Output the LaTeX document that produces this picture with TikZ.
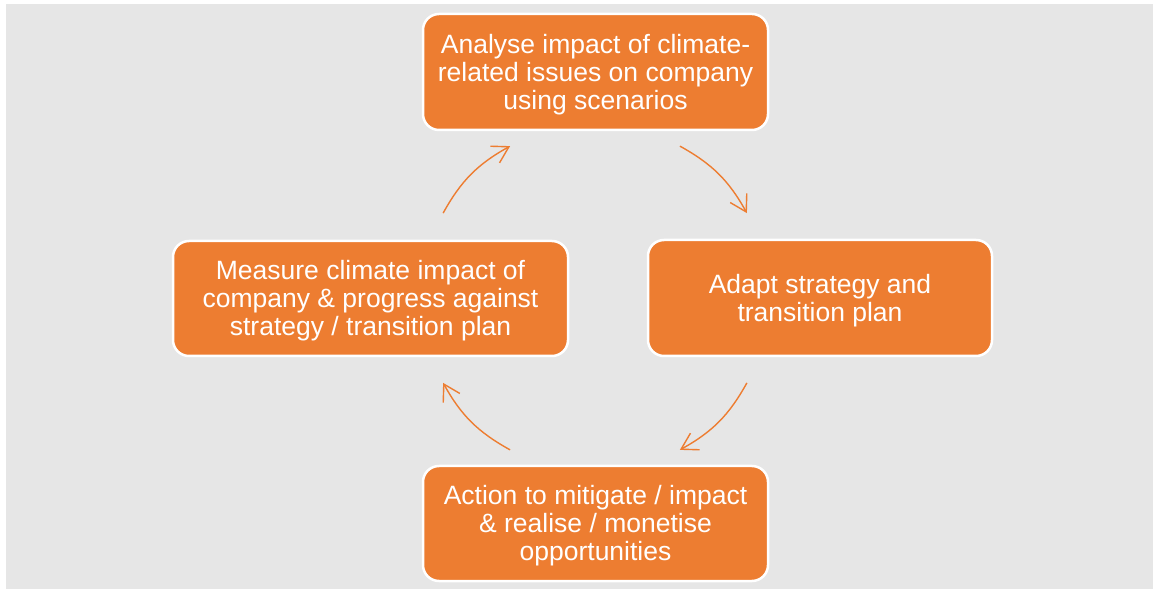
\documentclass[tikz,border=0pt]{standalone}
\usepackage{fontspec}
\setmainfont{Liberation Sans}
\usetikzlibrary{arrows.meta}
\definecolor{boxorange}{HTML}{ED7D31}
\definecolor{bggray}{HTML}{E6E6E6}
\newcommand\tpad{\rule{0pt}{24pt}}
\begin{document}
\begin{tikzpicture}[x=1pt,y=1pt,
  stepbox/.style={rectangle, rounded corners=16pt, fill=boxorange, draw=white,
    line width=2.5pt, text=white, align=center, inner sep=0pt,
    font=\fontsize{26.5}{28}\selectfont},
  cyc/.style={draw=boxorange, line width=1.4pt,
    -{Straight Barb[length=16pt,width=19pt,line width=1.4pt]}}]
\useasboundingbox (0,0) rectangle (1153,589);
\fill[bggray] (6,0) rectangle (1153,585);
\node[stepbox, minimum width=345pt, minimum height=116pt] (top) at (595.5,517)
  {\tpad Analyse impact of climate-\\related issues on company\\using scenarios};
\node[stepbox, minimum width=344pt, minimum height=116pt] (right) at (820,291)
  {\tpad Adapt strategy and\\transition plan};
\node[stepbox, minimum width=395pt, minimum height=115pt] (left) at (370.5,290.5)
  {\tpad Measure climate impact of\\company \& progress against\\strategy / transition plan};
\node[stepbox, minimum width=345pt, minimum height=115pt] (bottom) at (595.5,65.5)
  {\tpad Action to mitigate / impact\\\& realise / monetise\\opportunities};
\coordinate (ctr) at (595,291);
\path (ctr) ++(150.8:174pt) coordinate (a1s);
\path (ctr) ++(119.2:174pt) coordinate (a1e);
\path (ctr) ++(60.8:174pt) coordinate (a2s);
\path (ctr) ++(29.2:174pt) coordinate (a2e);
\path (ctr) ++(-29.2:174pt) coordinate (a3s);
\path (ctr) ++(-60.8:174pt) coordinate (a3e);
\path (ctr) ++(-119.2:174pt) coordinate (a4s);
\path (ctr) ++(-150.8:174pt) coordinate (a4e);
\draw[cyc] (a1s) to[bend left=16] (a1e);
\draw[cyc] (a2s) to[bend left=16] (a2e);
\draw[cyc] (a3s) to[bend left=16] (a3e);
\draw[cyc] (a4s) to[bend left=16] (a4e);
\end{tikzpicture}
\end{document}
